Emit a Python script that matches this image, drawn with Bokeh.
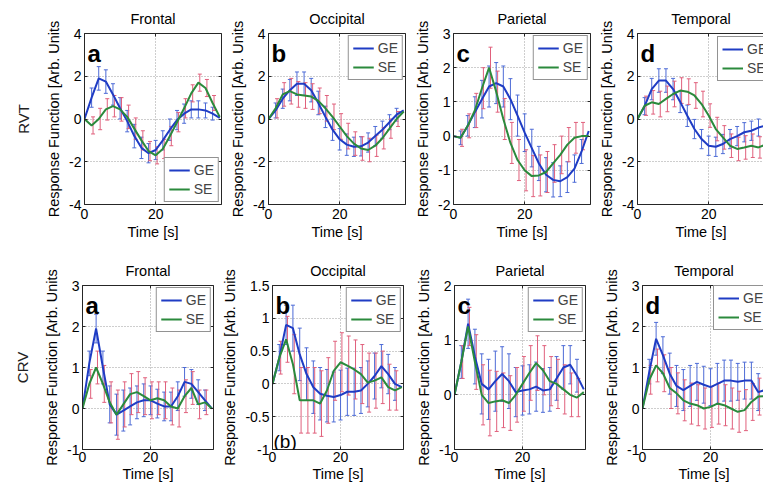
from bokeh.plotting import figure
from bokeh.models import (ColumnDataSource, Whisker, TeeHead, Legend, LegendItem, Label,
                          FixedTicker, LinearAxis, Range1d, Title)
from bokeh.layouts import row, column
from bokeh.embed import file_html
from bokeh.resources import INLINE

# ---------------- data ----------------
T = [0, 2, 4, 6, 8, 10, 12, 14, 16, 18, 20, 22, 24, 26, 28, 30, 32, 34, 36, 38]
X_TICKS = [0, 20, 40]
REGIONS = ["Frontal", "Occipital", "Parietal", "Temporal"]
LETTERS = ["a", "b", "c", "d"]
ROWS = ["RVT", "CRV"]
SERIES = ["GE", "SE"]

# RVT row
rvt_frontal_ge = [0, 1.0, 1.9, 1.75, 1.15, 0.5, -0.1, -0.8, -1.35, -1.6, -1.45, -1.0, -0.5, -0.05, 0.25, 0.45, 0.45, 0.4, 0.25, 0.05]
rvt_frontal_se = [0, -0.3, 0.0, 0.45, 0.6, 0.45, 0.1, -0.45, -1.0, -1.5, -1.7, -1.4, -0.8, -0.15, 0.5, 1.2, 1.7, 1.45, 0.75, 0.1]
rvt_frontal_ge_err = [0, 0.45, 0.55, 0.55, 0.5, 0.5, 0.5, 0.55, 0.5, 0.45, 0.45, 0.45, 0.5, 0.45, 0.45, 0.4, 0.4, 0.35, 0.3, 0]
rvt_frontal_se_err = [0, 0.4, 0.5, 0.5, 0.5, 0.55, 0.55, 0.5, 0.45, 0.45, 0.4, 0.45, 0.45, 0.45, 0.45, 0.4, 0.4, 0.4, 0.35, 0]

rvt_occipital_ge = [0, 0.4, 0.95, 1.35, 1.65, 1.65, 1.35, 0.75, 0.1, -0.5, -0.95, -1.2, -1.3, -1.28, -1.1, -0.8, -0.5, -0.15, 0.2, 0.4]
rvt_occipital_se = [0, 0.5, 1.15, 1.3, 1.15, 1.1, 1.05, 0.85, 0.5, 0.1, -0.35, -0.8, -1.15, -1.38, -1.45, -1.25, -0.9, -0.45, 0.0, 0.35]
rvt_occipital_ge_err = [0, 0.35, 0.45, 0.5, 0.55, 0.55, 0.55, 0.55, 0.5, 0.5, 0.5, 0.5, 0.45, 0.45, 0.45, 0.45, 0.4, 0.35, 0.3, 0]
rvt_occipital_se_err = [0, 0.45, 0.55, 0.6, 0.6, 0.6, 0.6, 0.6, 0.6, 0.6, 0.6, 0.6, 0.55, 0.55, 0.55, 0.5, 0.5, 0.45, 0.35, 0]

rvt_parietal_ge = [0, -0.05, 0.3, 0.7, 1.08, 1.45, 1.55, 1.45, 1.08, 0.6, 0.1, -0.35, -0.8, -1.13, -1.28, -1.32, -1.2, -0.95, -0.45, 0.15]
rvt_parietal_se = [0, -0.05, 0.3, 0.75, 1.4, 2.0, 1.3, 0.5, -0.2, -0.7, -1.0, -1.17, -1.15, -1.05, -0.8, -0.55, -0.25, -0.05, 0.0, 0.0]
rvt_parietal_ge_err = [0, 0.2, 0.3, 0.45, 0.55, 0.6, 0.6, 0.6, 0.6, 0.6, 0.55, 0.55, 0.5, 0.5, 0.5, 0.45, 0.45, 0.4, 0.35, 0]
rvt_parietal_se_err = [0, 0.25, 0.35, 0.5, 0.6, 0.6, 0.6, 0.6, 0.6, 0.6, 0.6, 0.6, 0.6, 0.6, 0.55, 0.55, 0.5, 0.45, 0.4, 0]

rvt_temporal_ge = [0, 0.6, 1.4, 1.8, 1.8, 1.4, 0.8, 0.15, -0.47, -0.94, -1.25, -1.3, -1.17, -0.94, -0.8, -0.62, -0.55, -0.4, -0.3, -0.2]
rvt_temporal_se = [0, 0.62, 0.78, 0.7, 0.94, 1.17, 1.33, 1.28, 1.1, 0.7, 0.16, -0.47, -0.86, -1.25, -1.4, -1.33, -1.25, -1.33, -1.2, -1.0]
rvt_temporal_ge_err = [0, 0.4, 0.5, 0.55, 0.55, 0.5, 0.5, 0.5, 0.45, 0.45, 0.45, 0.45, 0.45, 0.45, 0.45, 0.45, 0.45, 0.4, 0.4, 0.4]
rvt_temporal_se_err = [0, 0.45, 0.55, 0.6, 0.6, 0.6, 0.6, 0.6, 0.6, 0.6, 0.55, 0.55, 0.55, 0.55, 0.55, 0.55, 0.55, 0.5, 0.5, 0.5]

# CRV row
crv_frontal_ge = [0, 1.1, 1.95, 1.0, 0.1, -0.15, -0.05, 0.05, 0.15, 0.2, 0.2, 0.12, 0.05, 0.05, 0.3, 0.65, 0.6, 0.4, 0.2, 0.0]
crv_frontal_se = [0, 0.6, 1.0, 0.6, 0.15, -0.15, 0.1, 0.35, 0.4, 0.3, 0.2, 0.25, 0.2, 0.05, 0.0, 0.3, 0.5, 0.1, 0.15, 0.0]
crv_frontal_ge_err = [0, 0.3, 0.35, 0.4, 0.45, 0.5, 0.5, 0.45, 0.4, 0.4, 0.35, 0.35, 0.35, 0.35, 0.35, 0.35, 0.35, 0.3, 0.25, 0]
crv_frontal_se_err = [0, 0.35, 0.4, 0.45, 0.5, 0.6, 0.55, 0.5, 0.5, 0.45, 0.45, 0.4, 0.45, 0.45, 0.45, 0.4, 0.4, 0.35, 0.3, 0]

crv_occipital_ge = [0, 0.4, 0.9, 0.85, 0.45, 0.15, -0.05, -0.15, -0.18, -0.2, -0.17, -0.12, -0.12, -0.1, 0.0, 0.12, 0.27, 0.15, 0.0, -0.05]
crv_occipital_se = [0, 0.4, 0.68, 0.3, -0.25, -0.25, -0.25, -0.3, -0.1, 0.2, 0.33, 0.28, 0.22, 0.15, 0.02, 0.05, 0.1, -0.05, -0.1, -0.05]
crv_occipital_ge_err = [0, 0.2, 0.3, 0.35, 0.4, 0.4, 0.4, 0.4, 0.4, 0.38, 0.38, 0.36, 0.36, 0.35, 0.35, 0.35, 0.33, 0.3, 0.25, 0]
crv_occipital_se_err = [0, 0.25, 0.35, 0.45, 0.5, 0.5, 0.5, 0.5, 0.5, 0.45, 0.45, 0.45, 0.45, 0.45, 0.45, 0.42, 0.4, 0.35, 0.3, 0]

crv_parietal_ge = [0, 0.6, 1.3, 0.7, 0.2, 0.1, 0.25, 0.38, 0.25, 0.05, 0.08, 0.1, 0.15, 0.08, 0.1, 0.3, 0.5, 0.55, 0.35, 0.1]
crv_parietal_se = [0, 0.6, 1.25, 0.6, 0.0, -0.15, -0.12, -0.1, -0.15, 0.0, 0.2, 0.4, 0.58, 0.45, 0.25, 0.2, 0.1, 0.0, -0.05, 0.05]
crv_parietal_ge_err = [0, 0.3, 0.45, 0.5, 0.55, 0.55, 0.55, 0.5, 0.5, 0.45, 0.45, 0.45, 0.45, 0.4, 0.4, 0.4, 0.4, 0.35, 0.3, 0]
crv_parietal_se_err = [0, 0.3, 0.35, 0.5, 0.55, 0.6, 0.55, 0.5, 0.5, 0.5, 0.5, 0.5, 0.5, 0.45, 0.45, 0.45, 0.45, 0.4, 0.35, 0]

crv_temporal_ge = [0, 0.9, 1.7, 1.3, 0.85, 0.55, 0.45, 0.55, 0.65, 0.58, 0.52, 0.6, 0.68, 0.68, 0.65, 0.68, 0.68, 0.4, 0.45, 0.45]
crv_temporal_se = [0, 0.7, 1.05, 0.86, 0.5, 0.37, 0.2, 0.12, 0.08, 0.0, 0.04, 0.12, 0.08, 0.0, -0.08, -0.04, 0.16, 0.29, 0.3, 0.25]
crv_temporal_ge_err = [0, 0.3, 0.4, 0.45, 0.5, 0.5, 0.5, 0.5, 0.45, 0.45, 0.45, 0.5, 0.5, 0.5, 0.45, 0.45, 0.45, 0.45, 0.4, 0.4]
crv_temporal_se_err = [0, 0.35, 0.4, 0.45, 0.5, 0.5, 0.5, 0.5, 0.5, 0.5, 0.5, 0.5, 0.5, 0.5, 0.5, 0.5, 0.45, 0.45, 0.45, 0.45]

# y axis ranges / ticks
rvt_y_ranges = [(-4, 4), (-4, 4), (-2, 3), (-4, 4)]
rvt_y_ticks = [[-4, -2, 0, 2, 4], [-4, -2, 0, 2, 4], [-2, -1, 0, 1, 2, 3], [-4, -2, 0, 2, 4]]
crv_y_ranges = [(-1, 3), (-1, 1.5), (-1, 2), (-1, 3)]
crv_y_ticks = [[-1, 0, 1, 2, 3], [-1, -0.5, 0, 0.5, 1, 1.5], [-1, 0, 1, 2], [-1, 0, 1, 2, 3]]
X_END = 38.5

# ---------------- style ----------------
FONT = "Liberation Sans"
GE_COL = "#1f3cc4"
SE_COL = "#2b8a3c"
GE_ERR_COL = "#4d6bd6"
SE_ERR_COL = "#e0607c"
AX = "#262626"
GRID = "#9c9c9c"


def fmt(v):
    return ("%g" % v)


def make_panel(region, letter, ge, se, ge_err, se_err, yr, yticks,
               fw, fh, L, R, Tb, Bb, xend, legend_loc, tick_sd, xlab_sd, title_sd,
               row_label=None, row_label_sd=0, extra_text=None, right_axis=True):
    p = figure(frame_width=fw, frame_height=fh,
               min_border_left=L, min_border_right=R, min_border_top=Tb, min_border_bottom=Bb,
               x_range=Range1d(0, xend), y_range=Range1d(*yr),
               output_backend="svg", toolbar_location=None, title=region,
               outline_line_color=None, background_fill_color="white",
               border_fill_color="white")
    p.title.align = "center"
    p.title.text_font = FONT
    p.title.text_font_size = "14.5px"
    p.title.text_font_style = "normal"
    p.title.text_color = "black"
    p.title.standoff = title_sd

    xt = FixedTicker(ticks=X_TICKS)
    yt = FixedTicker(ticks=yticks)
    xa = p.below[0]
    ya = p.left[0]
    xa.ticker = xt
    ya.ticker = yt
    p.xgrid.ticker = xt
    p.ygrid.ticker = yt
    xa.major_label_overrides = {v: fmt(v) for v in X_TICKS}
    ya.major_label_overrides = {v: fmt(v) for v in yticks}
    for ax in (xa, ya):
        ax.axis_line_color = AX
        ax.major_tick_line_color = AX
        ax.major_tick_in = 3
        ax.major_tick_out = 0
        ax.minor_tick_line_color = None
        ax.major_label_text_font = FONT
        ax.major_label_text_font_size = "14px"
        ax.major_label_text_color = "black"
        ax.axis_label_text_font = FONT
        ax.axis_label_text_font_size = "14.5px"
        ax.axis_label_text_font_style = "normal"
        ax.axis_label_text_color = "black"
    xa.axis_label = "Time [s]"
    ya.axis_label = "Response Function [Arb. Units"
    xa.major_label_standoff = tick_sd
    xa.axis_label_standoff = xlab_sd
    ya.major_label_standoff = 3
    ya.axis_label_standoff = 4

    for g in (p.xgrid, p.ygrid):
        g.grid_line_color = GRID
        g.grid_line_dash = "1 2"
        g.grid_line_width = 1

    # mirrored axes (MATLAB box with inward ticks)
    top = LinearAxis(ticker=xt, major_label_overrides={v: "" for v in X_TICKS},
                     major_label_text_font_size="1px", major_label_standoff=0,
                     major_tick_in=3, major_tick_out=0, minor_tick_line_color=None,
                     axis_line_color=AX, major_tick_line_color=AX)
    p.add_layout(top, "above")
    if right_axis:
        rt = LinearAxis(ticker=yt, major_label_overrides={v: "" for v in yticks},
                        major_label_text_font_size="1px", major_label_standoff=0,
                        major_tick_in=3, major_tick_out=0, minor_tick_line_color=None,
                        axis_line_color=AX, major_tick_line_color=AX)
        p.add_layout(rt, "right")

    if row_label is not None:
        p.add_layout(Title(text=row_label, align="center", text_font=FONT,
                           text_font_size="15px", text_font_style="normal",
                           text_color="#222222", standoff=row_label_sd), "left")

    # error bars
    for vals, errs, dx, col in ((ge, ge_err, 0.0, GE_ERR_COL), (se, se_err, 0.4, SE_ERR_COL)):
        tt = [t + dx for t, e in zip(T, errs) if e > 0]
        up = [v + e for v, e in zip(vals, errs) if e > 0]
        lo = [v - e for v, e in zip(vals, errs) if e > 0]
        src = ColumnDataSource(dict(t=tt, up=up, lo=lo))
        w = Whisker(source=src, base="t", upper="up", lower="lo", dimension="height",
                    line_color=col, line_width=1, level="underlay",
                    upper_head=TeeHead(size=4, line_color=col, line_width=1),
                    lower_head=TeeHead(size=4, line_color=col, line_width=1))
        p.add_layout(w)

    r_ge = p.line(T, ge, line_color=GE_COL, line_width=2)
    r_se = p.line(T, se, line_color=SE_COL, line_width=2)

    leg = Legend(items=[LegendItem(label=SERIES[0], renderers=[r_ge]),
                        LegendItem(label=SERIES[1], renderers=[r_se])],
                 location=legend_loc, label_text_font=FONT, label_text_font_size="14px",
                 glyph_width=21, glyph_height=16, label_height=16, label_standoff=4,
                 padding=4, spacing=3, margin=2, border_line_color=AX, border_line_width=1,
                 background_fill_color="white", background_fill_alpha=1.0)
    p.add_layout(leg)

    p.add_layout(Label(x=3, y=fh - 20, x_units="screen", y_units="screen", text=letter,
                       text_font=FONT, text_font_size="24px", text_font_style="bold",
                       text_align="left", text_baseline="alphabetic", text_color="black"))
    if extra_text is not None:
        p.add_layout(Label(x=1, y=8, x_units="screen", y_units="screen", text=extra_text,
                           text_font=FONT, text_font_size="19px",
                           text_align="left", text_baseline="alphabetic", text_color="black"))
    return p


# ---------------- layout ----------------
rvt_data = [
    (rvt_frontal_ge, rvt_frontal_se, rvt_frontal_ge_err, rvt_frontal_se_err),
    (rvt_occipital_ge, rvt_occipital_se, rvt_occipital_ge_err, rvt_occipital_se_err),
    (rvt_parietal_ge, rvt_parietal_se, rvt_parietal_ge_err, rvt_parietal_se_err),
    (rvt_temporal_ge, rvt_temporal_se, rvt_temporal_ge_err, rvt_temporal_se_err),
]
crv_data = [
    (crv_frontal_ge, crv_frontal_se, crv_frontal_ge_err, crv_frontal_se_err),
    (crv_occipital_ge, crv_occipital_se, crv_occipital_ge_err, crv_occipital_se_err),
    (crv_parietal_ge, crv_parietal_se, crv_parietal_ge_err, crv_parietal_se_err),
    (crv_temporal_ge, crv_temporal_se, crv_temporal_ge_err, crv_temporal_se_err),
]

TOP_FW = [137, 137, 137, 127]
TOP_L = [83, 45, 45, 45]
TOP_R = [2, 3, 2, 0]
TOP_FH = 171
TOP_LEG = ["bottom_right", "top_right", "top_right", (80, 123)]

BOT_FW = [131, 131, 131, 123]
BOT_L = [80, 55, 45, 45]
BOT_R = [4, 6, 12, 0]
BOT_FH = 164
BOT_LEG = ["top_right", "top_right", "top_right", (71, 119)]

top_figs = []
for i in range(4):
    ge, se, gee, see = rvt_data[i]
    top_figs.append(make_panel(
        REGIONS[i], LETTERS[i], ge, se, gee, see, rvt_y_ranges[i], rvt_y_ticks[i],
        TOP_FW[i], TOP_FH, TOP_L[i], TOP_R[i], 33, 48,
        X_END * TOP_FW[i] / TOP_FW[0], TOP_LEG[i], 4, 2, 13,
        row_label=ROWS[0] if i == 0 else None, row_label_sd=24,
        right_axis=(i < 3)))

bot_figs = []
for i in range(4):
    ge, se, gee, see = crv_data[i]
    bot_figs.append(make_panel(
        REGIONS[i], LETTERS[i], ge, se, gee, see, crv_y_ranges[i], crv_y_ticks[i],
        BOT_FW[i], BOT_FH, BOT_L[i], BOT_R[i], 33, 40,
        X_END * BOT_FW[i] / BOT_FW[0], BOT_LEG[i], 2, 1, 14,
        row_label=ROWS[1] if i == 0 else None, row_label_sd=22,
        extra_text="(b)" if i == 1 else None,
        right_axis=(i < 3)))

layout = column(row(*top_figs), row(*bot_figs))
open("out.html", "w").write(file_html(layout, INLINE, title="RVT / CRV response functions"))
